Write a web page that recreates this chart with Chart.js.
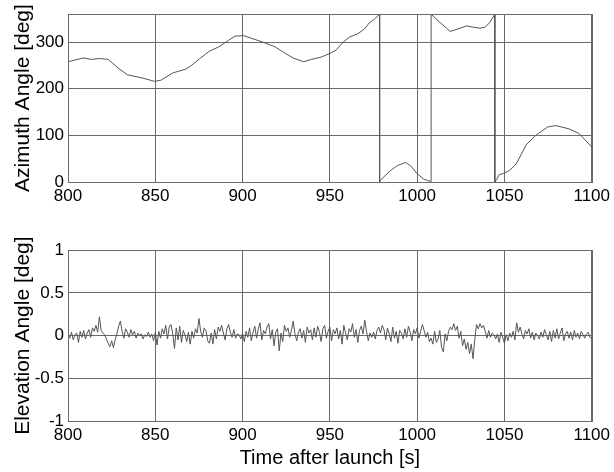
<!DOCTYPE html>
<html>
<head>
<meta charset="utf-8">
<script src="https://cdn.jsdelivr.net/npm/chart.js@4/dist/chart.umd.min.js"></script>
<style>
  html, body { margin: 0; padding: 0; background: #fff; }
  #wrap { position: relative; width: 614px; height: 472px; }
  #azimuth { position: absolute; left: 0; top: 0; }
  #elevation { position: absolute; left: 0; top: 236px; }
</style>
</head>
<body>
<div id="wrap">
  <canvas id="azimuth" width="614" height="215"></canvas>
  <canvas id="elevation" width="614" height="236"></canvas>
</div>
<script>
// time axis
var timeTicks = [800, 850, 900, 950, 1000, 1050, 1100];

// azimuth (wrapped at 360 deg, repeated times are the wrap jumps)
var azTime = [800, 808.7, 813.5, 818, 823, 828.6, 834, 842.8, 849.4, 853,
  860, 867.4, 870.3, 876, 880.7, 886.4, 892, 895.8, 900.6, 905.3,
  911, 918.6, 924, 929, 935, 939.4, 945, 950.7, 953.6, 957.4,
  961.2, 966, 969.7, 972.5, 975.4, 978.5, 978.5, 979, 984.8, 988.6,
  993.4, 996.2, 1000, 1003.8, 1008, 1008, 1013.2, 1018.9, 1024.6, 1028.4,
  1032.2, 1036, 1038.8, 1041.6, 1044.5, 1044.5, 1045.5, 1047, 1049.3, 1053,
  1056.8, 1062.5, 1068.2, 1074.8, 1079.5, 1087, 1092.8, 1100];
var azValue = [258, 266, 263, 265, 263, 245, 230, 223, 216, 218,
  234, 242, 249, 266, 280, 290, 304, 313, 314, 308,
  301, 290, 277, 266, 258, 263, 268, 277, 283, 299,
  311, 318, 328, 341, 349, 360, 0, 4, 25, 35,
  42, 35, 18, 6, 1, 360, 342, 323, 330, 335,
  332, 330, 332, 342, 360, 0, 5, 16, 18, 25,
  39, 80, 101, 118, 121, 114, 104, 75];
var azTicks = [0, 100, 200, 300];

// elevation, one sample per second from 800 s
var elStart = 800;
var elValue = [
  0.02, -0.03, 0.04, -0.05, 0.01, 0.03, -0.08, 0.05, -0.02, 0.06,
  -0.04, 0.03, 0.07, -0.02, 0.09, 0.05, 0.12, 0.04, 0.22, 0.06,
  0.03, 0.01, -0.04, -0.09, -0.13, -0.06, -0.14, -0.05, 0.02, 0.11,
  0.17, 0.05, -0.03, 0.08, 0.04, -0.02, 0.07, 0.01, 0.05, -0.03,
  0.03, 0.00, 0.02, -0.04, 0.01, -0.01, 0.04, -0.02, 0.02, -0.06,
  0.04, -0.11, 0.05, -0.03, 0.08, 0.02, 0.12, -0.04, 0.10, 0.13,
  0.02, -0.15, 0.09, -0.05, 0.11, -0.08, 0.06, 0.01, -0.07, 0.04,
  -0.10, 0.05, -0.03, 0.08, 0.03, 0.20, 0.05, -0.02, 0.09, 0.06,
  -0.06, -0.09, 0.03, -0.10, 0.07, -0.04, 0.10, 0.05, 0.12, 0.03,
  -0.05, 0.08, 0.13, 0.04, -0.02, 0.07, -0.03, 0.02, 0.01, -0.04,
  0.03, -0.07, 0.05, -0.02, 0.09, -0.06, 0.04, 0.11, -0.03, 0.08,
  0.15, -0.05, 0.06, 0.02, 0.10, 0.14, -0.04, 0.07, -0.12, 0.04,
  0.08, -0.18, 0.03, -0.07, 0.12, 0.05, 0.09, -0.02, 0.06, 0.17,
  0.02, -0.06, 0.04, 0.08, -0.03, 0.06, -0.08, 0.10, 0.03, 0.07,
  -0.05, 0.09, -0.02, 0.11, 0.04, -0.07, 0.08, 0.12, -0.03, 0.05,
  0.10, -0.06, 0.07, 0.02, 0.09, -0.04, 0.06, -0.10, 0.12, 0.03,
  -0.05, 0.08, 0.04, 0.14, -0.02, 0.07, -0.08, 0.06, 0.11, 0.02,
  0.18, 0.05, -0.06, 0.03, -0.02, 0.04, -0.04, 0.06, 0.10, 0.03,
  0.12, 0.07, -0.05, 0.09, 0.02, -0.07, 0.10, -0.03, 0.05, -0.09,
  0.06, 0.03, -0.04, 0.08, -0.02, 0.11, 0.04, -0.06, 0.07, 0.02,
  0.09, -0.03, 0.05, 0.13, 0.06, -0.02, 0.04, -0.07, -0.03, -0.10,
  0.05, -0.08, -0.04, 0.06, -0.14, -0.19, 0.02, -0.06, 0.05, 0.10,
  0.07, 0.14, 0.06, 0.11, -0.03, 0.05, -0.12, -0.04, -0.16, -0.08,
  -0.21, -0.10, -0.27, -0.05, 0.13, 0.08, 0.14, 0.09, 0.12, 0.05,
  -0.03, 0.06, -0.02, 0.03, 0.01, -0.04, 0.02, -0.08, 0.04, -0.02,
  -0.09, 0.01, -0.06, 0.03, -0.02, 0.05, -0.05, 0.15, 0.04, 0.10,
  0.02, -0.04, 0.06, 0.02, 0.08, -0.03, 0.04, -0.05, 0.03, 0.00,
  -0.04, 0.04, -0.02, 0.07, 0.01, -0.05, 0.05, -0.07, 0.06, -0.03,
  0.08, -0.04, 0.03, 0.09, -0.06, 0.02, 0.05, -0.03, 0.04, -0.05,
  0.06, -0.02, 0.03, -0.04, 0.05, 0.01, -0.03, 0.02, 0.04, -0.02,
  -0.04];
var elTicks = [-1, -0.5, 0, 0.5, 1];

var FONT = "'Liberation Sans', Arial, sans-serif";
var GRID = "#6a6a6a";

// box round the plot area
var frame = {
  id: "frame",
  afterDraw: function (chart) {
    var a = chart.chartArea, c = chart.ctx;
    c.save();
    c.strokeStyle = GRID;
    c.lineWidth = 1;
    c.strokeRect(Math.round(a.left) + 0.5, Math.round(a.top) + 0.5,
      Math.round(a.right - a.left), Math.round(a.bottom - a.top));
    c.restore();
  }
};

function plain(v) { return String(v); }

function makeChart(id, points, yMin, yMax, yTicks, yTitle, xTitle, pad, xHeight) {
  return new Chart(document.getElementById(id), {
    type: "line",
    data: {
      datasets: [{
        data: points,
        borderColor: "#555",
        borderWidth: 1,
        pointRadius: 0,
        tension: 0,
        fill: false
      }]
    },
    options: {
      responsive: false,
      animation: false,
      layout: { padding: pad },
      plugins: { legend: { display: false }, tooltip: { enabled: false } },
      scales: {
        x: {
          type: "linear",
          min: 800,
          max: 1100,
          afterBuildTicks: function (s) { s.ticks = timeTicks.map(function (v) { return { value: v }; }); },
          afterFit: function (s) { s.height = xHeight; },
          grid: { color: GRID, drawTicks: false },
          border: { display: false },
          ticks: { color: "#000", padding: 4, callback: plain, font: { family: FONT, size: 17 } },
          title: {
            display: !!xTitle,
            text: xTitle,
            color: "#000",
            padding: { top: 0, bottom: 2 },
            font: { family: FONT, size: 20 }
          }
        },
        y: {
          min: yMin,
          max: yMax,
          afterBuildTicks: function (s) { s.ticks = yTicks.map(function (v) { return { value: v }; }); },
          afterFit: function (s) { s.width = 68; },
          grid: { color: GRID, drawTicks: false },
          border: { display: false },
          ticks: { color: "#000", padding: 4, callback: plain, font: { family: FONT, size: 17 } },
          title: {
            display: true,
            text: yTitle,
            color: "#000",
            padding: { top: 11, bottom: 0 },
            font: { family: FONT, size: 21 }
          }
        }
      }
    },
    plugins: [frame]
  });
}

var azPoints = azTime.map(function (t, i) { return { x: t, y: azValue[i] }; });
var elPoints = elValue.map(function (v, i) { return { x: elStart + i, y: v }; });

makeChart("azimuth", azPoints, 0, 360, azTicks, "Azimuth Angle [deg]", "",
  { top: 8, right: 18, left: 0, bottom: 0 }, 33);
makeChart("elevation", elPoints, -1, 1, elTicks, "Elevation Angle [deg]", "Time after launch [s]",
  { top: 10, right: 18, left: 0, bottom: 0 }, 51);
</script>
</body>
</html>
